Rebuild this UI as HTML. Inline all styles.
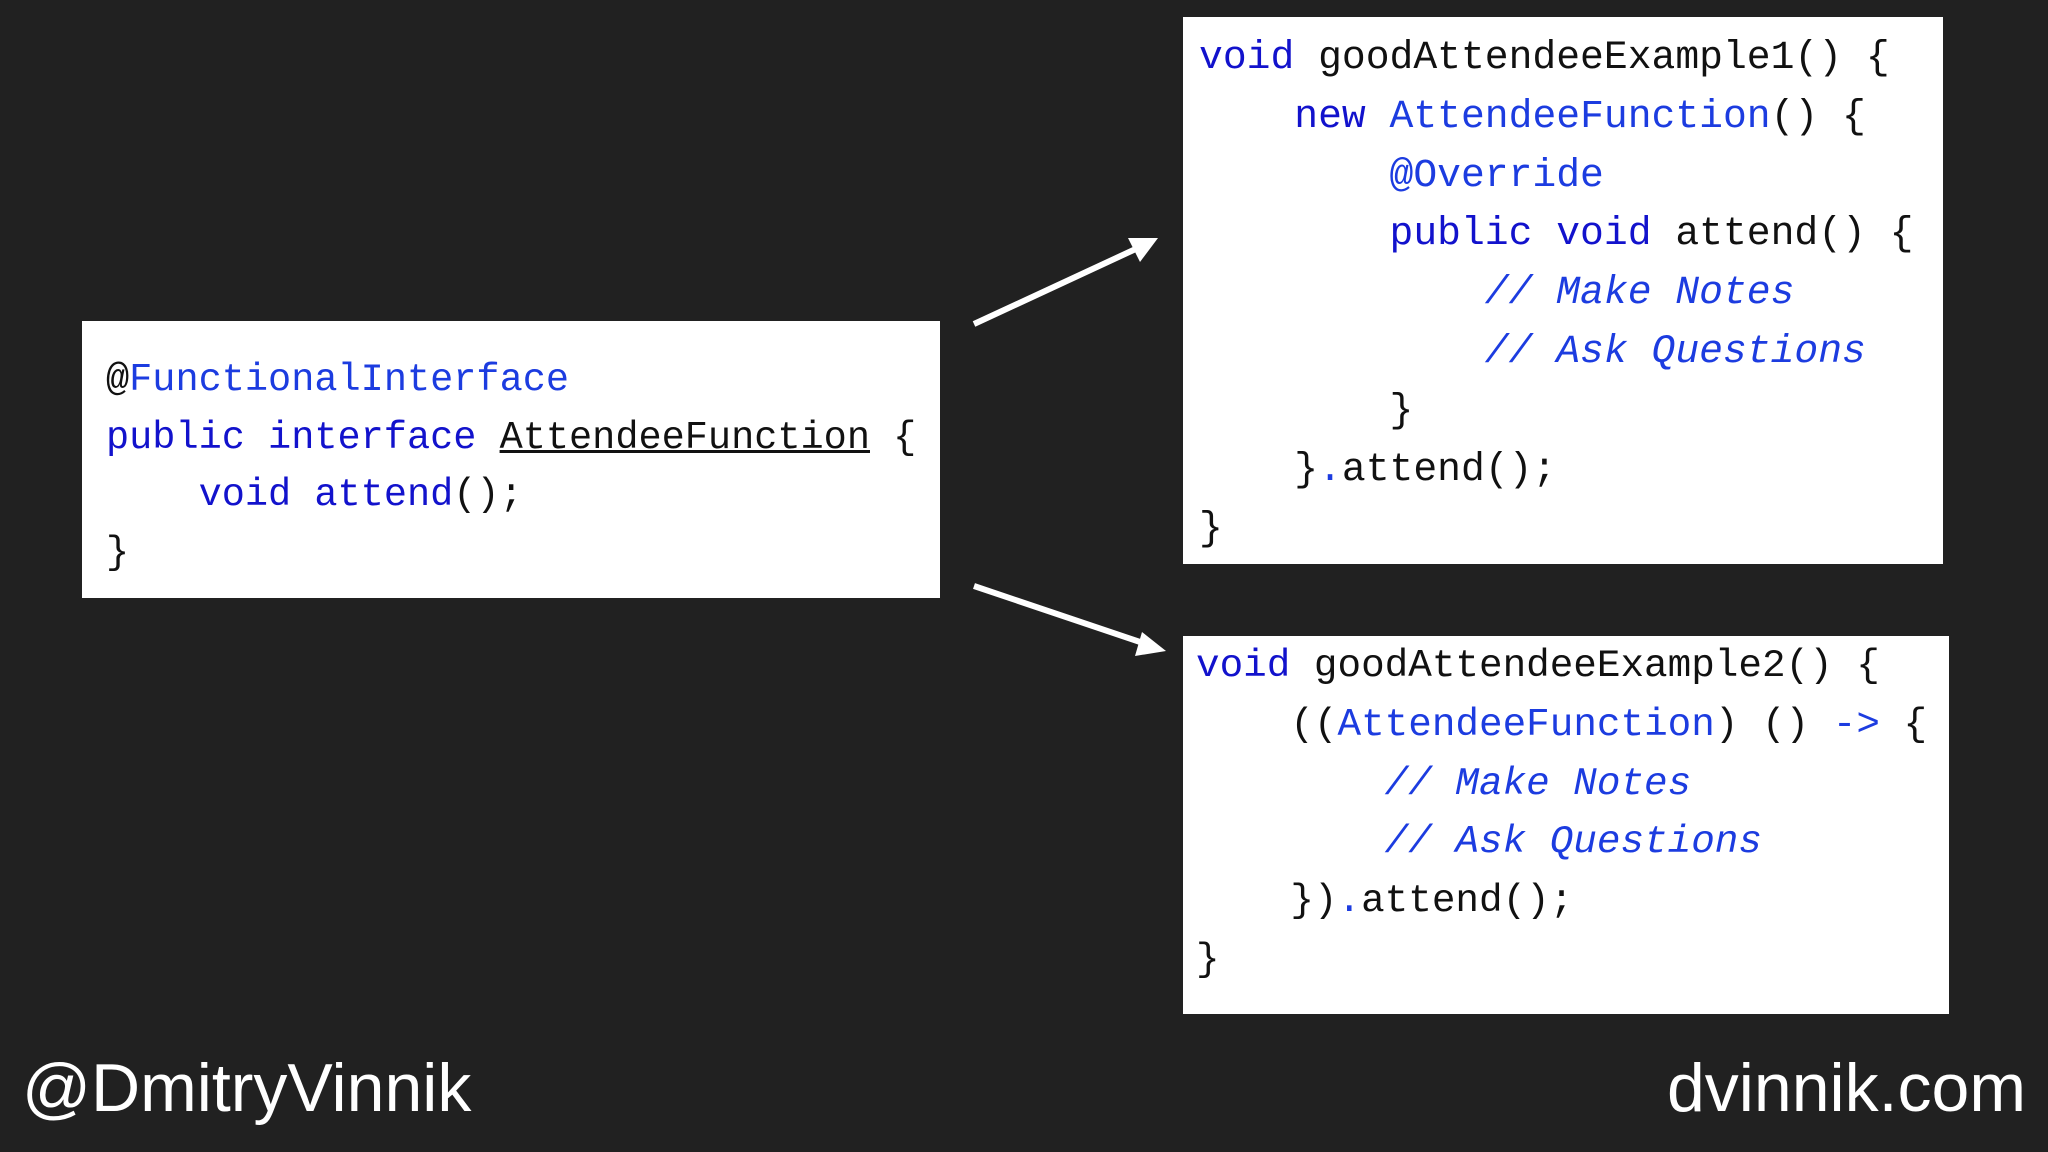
<!DOCTYPE html>
<html><head><meta charset="utf-8"><style>
body{margin:0;width:2048px;height:1152px;background:#212121;position:relative;overflow:hidden;font-family:"Liberation Sans",sans-serif}
.box{position:absolute;background:#fff}
.l{position:absolute;white-space:pre;font-family:"Liberation Mono",monospace;color:#111;height:58px;line-height:58px}
.k{color:#1212cc}.b{color:#1c3ce0}.c{color:#1c3ce0;font-style:italic}.u{text-decoration:underline}
.ft{position:absolute;color:#fff;font-size:68px;top:1046px;line-height:84px}
</style></head><body>
<div class="box" style="left:82px;top:321px;width:858px;height:277px"></div>
<div class="box" style="left:1183px;top:17px;width:760px;height:547px"></div>
<div class="box" style="left:1183px;top:636px;width:766px;height:378px"></div>

<div style="font-size:38.6px">
<div class="l" style="left:106px;top:351px">@<span class="b">FunctionalInterface</span></div>
<div class="l" style="left:106px;top:409px"><span class="k">public interface</span> <span class="u">AttendeeFunction</span> {</div>
<div class="l" style="left:106px;top:466px">    <span class="k">void attend</span>();</div>
<div class="l" style="left:106px;top:524px">}</div>
</div>

<div style="font-size:39.7px">
<div class="l" style="left:1199px;top:29px"><span class="k">void</span> goodAttendeeExample1() {</div>
<div class="l" style="left:1199px;top:88px">    <span class="k">new</span> <span class="b">AttendeeFunction</span>() {</div>
<div class="l" style="left:1199px;top:147px">        <span class="b">@Override</span></div>
<div class="l" style="left:1199px;top:205px">        <span class="k">public void</span> attend() {</div>
<div class="l" style="left:1199px;top:264px">            <span class="c">// Make Notes</span></div>
<div class="l" style="left:1199px;top:323px">            <span class="c">// Ask Questions</span></div>
<div class="l" style="left:1199px;top:382px">        }</div>
<div class="l" style="left:1199px;top:441px">    }<span class="b">.</span>attend();</div>
<div class="l" style="left:1199px;top:500px">}</div>
</div>

<div style="font-size:39.3px">
<div class="l" style="left:1196px;top:637px"><span class="k">void</span> goodAttendeeExample2() {</div>
<div class="l" style="left:1196px;top:696px">    ((<span class="b">AttendeeFunction</span>) () <span class="b">-&gt;</span> {</div>
<div class="l" style="left:1196px;top:755px">        <span class="c">// Make Notes</span></div>
<div class="l" style="left:1196px;top:813px">        <span class="c">// Ask Questions</span></div>
<div class="l" style="left:1196px;top:872px">    })<span class="b">.</span>attend();</div>
<div class="l" style="left:1196px;top:931px">}</div>
</div>

<svg style="position:absolute;left:0;top:0" width="2048" height="1152">
<line x1="974" y1="324" x2="1140" y2="247" stroke="#fff" stroke-width="6"/>
<polygon points="1158,238 1128,238 1140,262" fill="#fff"/>
<line x1="974" y1="586" x2="1146" y2="644" stroke="#fff" stroke-width="6"/>
<polygon points="1166,651 1142,632 1135,656" fill="#fff"/>
</svg>

<div class="ft" style="left:22px">@DmitryVinnik</div>
<div class="ft" style="right:22px">dvinnik.com</div>
</body></html>
